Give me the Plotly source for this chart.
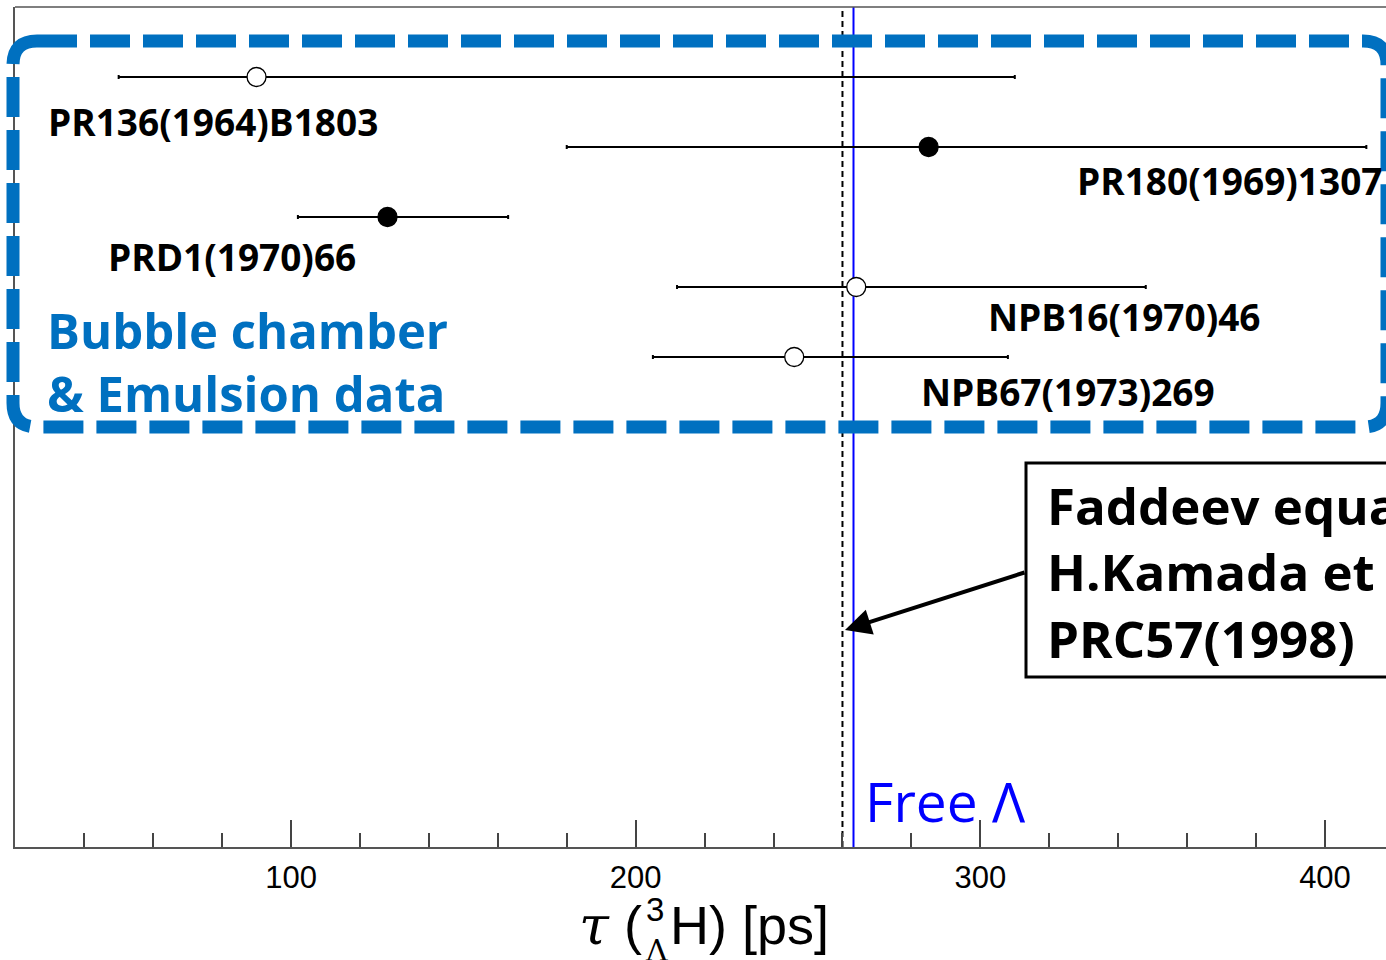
import plotly.graph_objects as go

# ---- data ----
labels = ["PR136(1964)B1803", "PR180(1969)1307", "PRD1(1970)66",
          "NPB16(1970)46", "NPB67(1973)269"]
tau = [90, 285, 128, 264, 246]
err_plus = [220, 127, 35, 84, 62]
err_minus = [40, 105, 26, 52, 41]
filled = [False, True, True, False, False]
rows = [5, 4, 3, 2, 1]
tau_faddeev = 260.0
tau_free = 263.2
major_ticks = [100, 200, 300, 400]
tick_text = ["100", "200", "300", "400"]

W, H = 1386, 960
L, R, T, B = 15, 1386, 7, 847
XR = [19.92, 417.7]
YR = [-6, 6]

def px2x(px):
    return XR[0] + (px - L) / (R - L) * (XR[1] - XR[0])

def px2y(py):
    return YR[1] - (py - T) / (B - T) * (YR[1] - YR[0])

def ppx(px):
    return (px - L) / (R - L)

def ppy(py):
    return (B - py) / (B - T)

fig = go.Figure()

BLUE = "#0070C0"
# dashed rounded rectangle (paper coords so it is not clipped at the axis)
x0, x1, y0, y1, r = 13, 1387, 41, 427, 24
path = (f"M {ppx(x0+r)},{ppy(y0)} L {ppx(x1-r)},{ppy(y0)} "
        f"Q {ppx(x1)},{ppy(y0)} {ppx(x1)},{ppy(y0+r)} "
        f"L {ppx(x1)},{ppy(y1-r)} Q {ppx(x1)},{ppy(y1)} {ppx(x1-r)},{ppy(y1)} "
        f"L {ppx(x0+r)},{ppy(y1)} Q {ppx(x0)},{ppy(y1)} {ppx(x0)},{ppy(y1-r)} "
        f"L {ppx(x0)},{ppy(y0+r)} Q {ppx(x0)},{ppy(y0)} {ppx(x0+r)},{ppy(y0)} Z")
fig.add_shape(type="path", path=path, xref="paper", yref="paper",
              line=dict(color=BLUE, width=13, dash="40px,13px"), layer="above")

# vertical lines
fig.add_shape(type="line", x0=tau_faddeev, x1=tau_faddeev, y0=0, y1=1, xref="x", yref="paper",
              line=dict(color="black", width=2, dash="6px,4px"), layer="below")
fig.add_shape(type="line", x0=tau_free, x1=tau_free, y0=0, y1=1, xref="x", yref="paper",
              line=dict(color="#0000FF", width=2), layer="below")

# top frame line
fig.add_shape(type="line", x0=0, x1=1, y0=1, y1=1, xref="paper", yref="paper",
              line=dict(color="#555555", width=1.5))

# Faddeev box
fig.add_shape(type="rect", x0=px2x(1026), x1=px2x(1600), y0=px2y(463), y1=px2y(677),
              xref="x", yref="y", line=dict(color="black", width=3), fillcolor="white")

for is_filled in (False, True):
    idx = [i for i in range(len(tau)) if filled[i] == is_filled]
    fig.add_trace(go.Scatter(
        x=[tau[i] for i in idx], y=[rows[i] for i in idx], mode="markers",
        marker=dict(symbol="circle", size=19,
                    color="black" if is_filled else "white",
                    line=dict(color="black", width=1.3)),
        error_x=dict(type="data", symmetric=False,
                     array=[err_plus[i] for i in idx],
                     arrayminus=[err_minus[i] for i in idx],
                     color="black", thickness=2, width=2),
        showlegend=False, hoverinfo="skip"))

LFONT = dict(family="Open Sans", size=37, color="black")
ann = [
    (labels[0], 46, 121, "left"),
    (labels[1], 1384, 180, "right"),
    (labels[2], 106, 256, "left"),
    (labels[3], 986, 316, "left"),
    (labels[4], 919, 391, "left"),
]
for txt, px, py, anc in ann:
    fig.add_annotation(x=px2x(px), y=px2y(py), text=f"<b>{txt}</b>", showarrow=False,
                       xanchor=anc, yanchor="middle", font=LFONT)

BFONT = dict(family="Open Sans", size=49, color=BLUE)
fig.add_annotation(x=px2x(45), y=px2y(330), text="<b>Bubble chamber</b>", showarrow=False,
                   xanchor="left", yanchor="middle", font=BFONT)
fig.add_annotation(x=px2x(45), y=px2y(393), text="<b>&amp; Emulsion data</b>", showarrow=False,
                   xanchor="left", yanchor="middle", font=BFONT)

FFONT = dict(family="Open Sans", size=51, color="black")
fig.add_annotation(x=px2x(1045), y=px2y(571),
                   text="<b>Faddeev equation</b><br><b>H.Kamada et al.</b><br><b>PRC57(1998)</b>",
                   showarrow=False, xanchor="left", yanchor="middle", align="left", font=FFONT)

# arrow
fig.add_annotation(x=px2x(845), y=px2y(630), ax=px2x(1026), ay=px2y(572),
                   axref="x", ayref="y", xref="x", yref="y", text="",
                   showarrow=True, arrowhead=2, arrowsize=1.3, arrowwidth=4,
                   arrowcolor="black")

fig.add_annotation(x=px2x(863), y=px2y(800), text="Free Λ", showarrow=False,
                   xanchor="left", yanchor="middle",
                   font=dict(family="Open Sans", size=55, color="#0000FF"))

# axis title
TFONT = dict(family="Liberation Sans", size=54, color="black")
fig.add_annotation(x=ppx(644), y=ppy(925), xref="paper", yref="paper",
                   text="<span style='font-family:DejaVu Serif'><i>τ</i></span> (",
                   showarrow=False, xanchor="right", yanchor="middle", font=TFONT)
fig.add_annotation(x=ppx(655), y=ppy(909), xref="paper", yref="paper",
                   text="3", showarrow=False, xanchor="center", yanchor="middle",
                   font=dict(family="Liberation Sans", size=33, color="black"))
fig.add_annotation(x=ppx(656), y=ppy(950), xref="paper", yref="paper",
                   text="Λ", showarrow=False, xanchor="center", yanchor="middle",
                   font=dict(family="DejaVu Serif", size=30, color="black"))
fig.add_annotation(x=ppx(668), y=ppy(925), xref="paper", yref="paper",
                   text="H) [ps]", showarrow=False, xanchor="left", yanchor="middle",
                   font=TFONT)

fig.update_layout(
    width=W, height=H, margin=dict(l=L, r=W - R, t=T, b=H - B),
    plot_bgcolor="white", paper_bgcolor="white",
    xaxis=dict(range=XR, tickvals=major_ticks, ticktext=tick_text,
               ticks="inside", ticklen=27, tickwidth=1.5, tickcolor="#444",
               showline=True, linecolor="#555", linewidth=1.5, showgrid=False,
               zeroline=False, ticklabelstandoff=2,
               tickfont=dict(family="Liberation Sans", size=31, color="black"),
               minor=dict(tick0=0, dtick=20, ticks="inside", ticklen=14,
                          tickwidth=1.5, tickcolor="#444", showgrid=False)),
    yaxis=dict(range=YR, showticklabels=False, ticks="", showgrid=False,
               zeroline=False, showline=True, linecolor="#555", linewidth=1.5),
)

fig.write_html("out.html", config={"displayModeBar": False},
               post_script="document.body.style.margin='0';document.body.style.overflow='hidden';")
